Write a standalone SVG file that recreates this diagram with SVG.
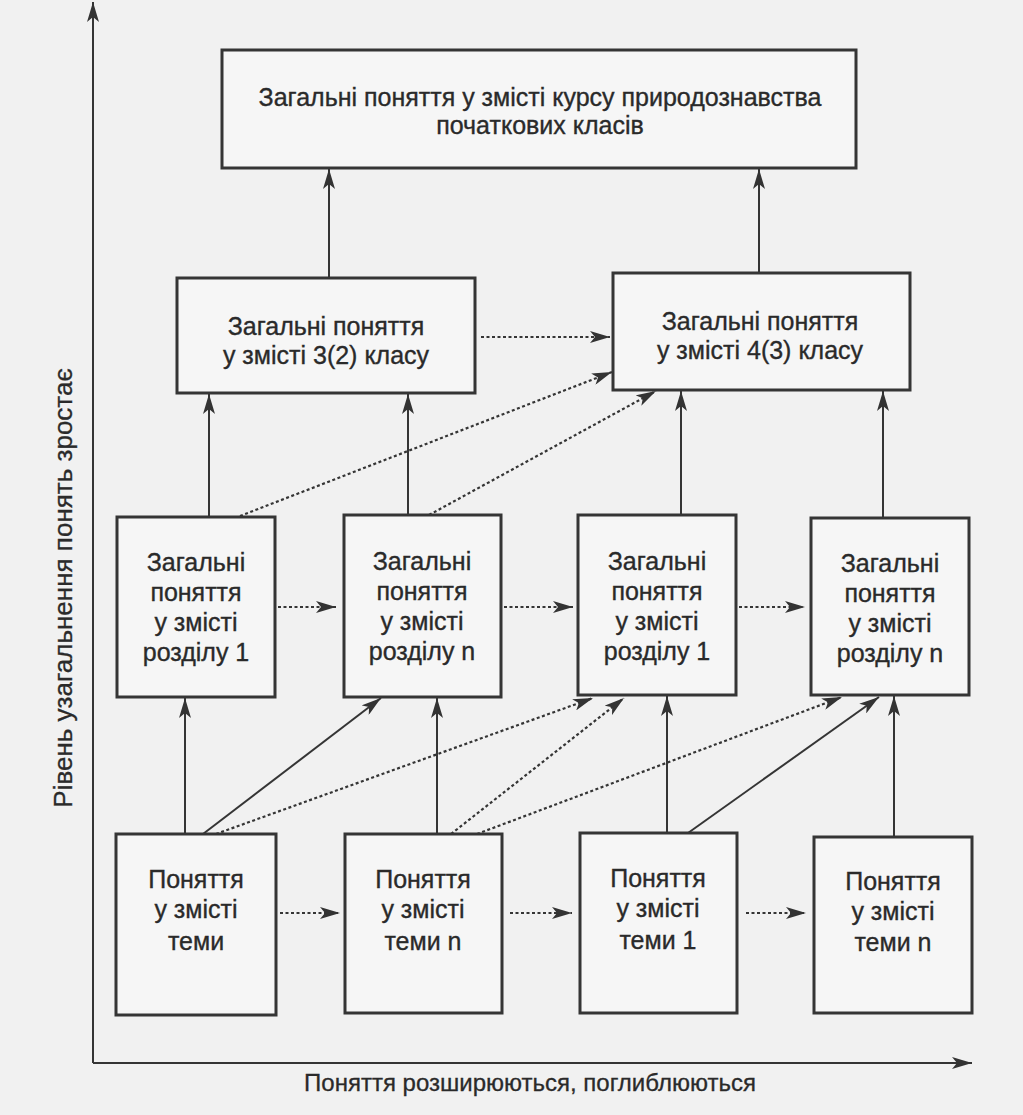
<svg xmlns="http://www.w3.org/2000/svg" width="1023" height="1115" viewBox="0 0 1023 1115">
<style>
.box{fill:#f6f6f6;stroke:#353535;stroke-width:3}
.t{font-family:"Liberation Sans",Arial,sans-serif;font-size:25px;fill:#2a2a2a;stroke:#2a2a2a;stroke-width:0.35;text-anchor:middle}
.ax{font-family:"Liberation Sans",Arial,sans-serif;font-size:24px;fill:#2a2a2a;stroke:#2a2a2a;stroke-width:0.3;text-anchor:middle}
.s{stroke:#353535;stroke-width:2;fill:none}
.d{stroke:#353535;stroke-width:2.2;fill:none;stroke-dasharray:3 2.5}
</style>
<defs>
<marker id="ah" viewBox="0 0 20 12" refX="20" refY="6" markerWidth="20" markerHeight="12" orient="auto" markerUnits="userSpaceOnUse">
<path d="M0,0 L20,6 L0,12 L5,6 z" fill="#333"/>
</marker>
</defs>
<rect x="0" y="0" width="1023" height="1115" fill="#f1f1f1"/>

<g id="axes">
<line class="s" x1="93" y1="1063" x2="93" y2="2" marker-end="url(#ah)"/>
<line class="s" x1="93" y1="1063" x2="972" y2="1063" marker-end="url(#ah)"/>
<text class="ax" x="530" y="1091">Поняття розширюються, поглиблюються</text>
<text class="ax" style="font-size:26px" transform="translate(72,588) rotate(-90)" x="0" y="0">Рівень узагальнення понять зростає</text>
</g>

<g id="connectors">
<line class="s" x1="329" y1="278" x2="329" y2="169" marker-end="url(#ah)"/>
<line class="s" x1="759" y1="273" x2="759" y2="169" marker-end="url(#ah)"/>
<line class="d" x1="481" y1="337" x2="610" y2="337" marker-end="url(#ah)"/>
<line class="s" x1="209" y1="517" x2="209" y2="394" marker-end="url(#ah)"/>
<line class="s" x1="408" y1="515" x2="408" y2="394" marker-end="url(#ah)"/>
<line class="s" x1="681" y1="515" x2="681" y2="391" marker-end="url(#ah)"/>
<line class="s" x1="883" y1="518" x2="883" y2="391" marker-end="url(#ah)"/>
<line class="d" x1="240" y1="516" x2="612" y2="372" marker-end="url(#ah)"/>
<line class="d" x1="429" y1="515" x2="656" y2="391" marker-end="url(#ah)"/>
<line class="d" x1="278" y1="607" x2="336" y2="607" marker-end="url(#ah)"/>
<line class="d" x1="504" y1="607" x2="573" y2="607" marker-end="url(#ah)"/>
<line class="d" x1="739" y1="607" x2="805" y2="607" marker-end="url(#ah)"/>
<line class="s" x1="185" y1="834" x2="185" y2="698" marker-end="url(#ah)"/>
<line class="s" x1="203" y1="834" x2="381" y2="698" marker-end="url(#ah)"/>
<line class="d" x1="216" y1="834" x2="593" y2="698" marker-end="url(#ah)"/>
<line class="s" x1="437" y1="834" x2="437" y2="698" marker-end="url(#ah)"/>
<line class="d" x1="451" y1="834" x2="624" y2="698" marker-end="url(#ah)"/>
<line class="d" x1="477" y1="834" x2="842" y2="697" marker-end="url(#ah)"/>
<line class="s" x1="667" y1="833" x2="667" y2="696" marker-end="url(#ah)"/>
<line class="s" x1="688" y1="833" x2="879" y2="697" marker-end="url(#ah)"/>
<line class="s" x1="894" y1="837" x2="894" y2="696" marker-end="url(#ah)"/>
<line class="d" x1="280" y1="913" x2="340" y2="913" marker-end="url(#ah)"/>
<line class="d" x1="510" y1="913" x2="572" y2="913" marker-end="url(#ah)"/>
<line class="d" x1="746" y1="913" x2="806" y2="913" marker-end="url(#ah)"/>
</g>

<g id="top">
<rect class="box" x="222" y="50" width="634" height="118"/>
<text class="t" x="540" y="106">Загальні поняття у змісті курсу природознавства</text>
<text class="t" x="540" y="134">початкових класів</text>
</g>

<g id="class32">
<rect class="box" x="177" y="278" width="298" height="115"/>
<text class="t" x="326" y="335">Загальні поняття</text>
<text class="t" x="326" y="364">у змісті 3(2) класу</text>
</g>

<g id="class43">
<rect class="box" x="613" y="273" width="297" height="117"/>
<text class="t" x="760" y="330">Загальні поняття</text>
<text class="t" x="760" y="359">у змісті 4(3) класу</text>
</g>

<g id="sec1a">
<rect class="box" x="117" y="517" width="158" height="180"/>
<text class="t" x="196" y="571">Загальні</text>
<text class="t" x="196" y="601">поняття</text>
<text class="t" x="196" y="631">у змісті</text>
<text class="t" x="196" y="661">розділу 1</text>
</g>

<g id="secna">
<rect class="box" x="344" y="515" width="157" height="182"/>
<text class="t" x="422" y="570">Загальні</text>
<text class="t" x="422" y="600">поняття</text>
<text class="t" x="422" y="630">у змісті</text>
<text class="t" x="422" y="660">розділу n</text>
</g>

<g id="sec1b">
<rect class="box" x="578" y="515" width="158" height="180"/>
<text class="t" x="657" y="570">Загальні</text>
<text class="t" x="657" y="600">поняття</text>
<text class="t" x="657" y="630">у змісті</text>
<text class="t" x="657" y="660">розділу 1</text>
</g>

<g id="secnb">
<rect class="box" x="811" y="518" width="158" height="177"/>
<text class="t" x="890" y="572">Загальні</text>
<text class="t" x="890" y="602">поняття</text>
<text class="t" x="890" y="632">у змісті</text>
<text class="t" x="890" y="662">розділу n</text>
</g>

<g id="topic1a">
<rect class="box" x="116" y="834" width="160" height="181"/>
<text class="t" x="196" y="888">Поняття</text>
<text class="t" x="196" y="918">у змісті</text>
<text class="t" x="196" y="950">теми</text>
</g>

<g id="topicna">
<rect class="box" x="345" y="834" width="157" height="179"/>
<text class="t" x="423" y="888">Поняття</text>
<text class="t" x="423" y="918">у змісті</text>
<text class="t" x="423" y="950">теми n</text>
</g>

<g id="topic1b">
<rect class="box" x="580" y="833" width="157" height="180"/>
<text class="t" x="658" y="887">Поняття</text>
<text class="t" x="658" y="917">у змісті</text>
<text class="t" x="658" y="949">теми 1</text>
</g>

<g id="topicnb">
<rect class="box" x="814" y="837" width="158" height="176"/>
<text class="t" x="893" y="890">Поняття</text>
<text class="t" x="893" y="920">у змісті</text>
<text class="t" x="893" y="951">теми n</text>
</g>
</svg>
